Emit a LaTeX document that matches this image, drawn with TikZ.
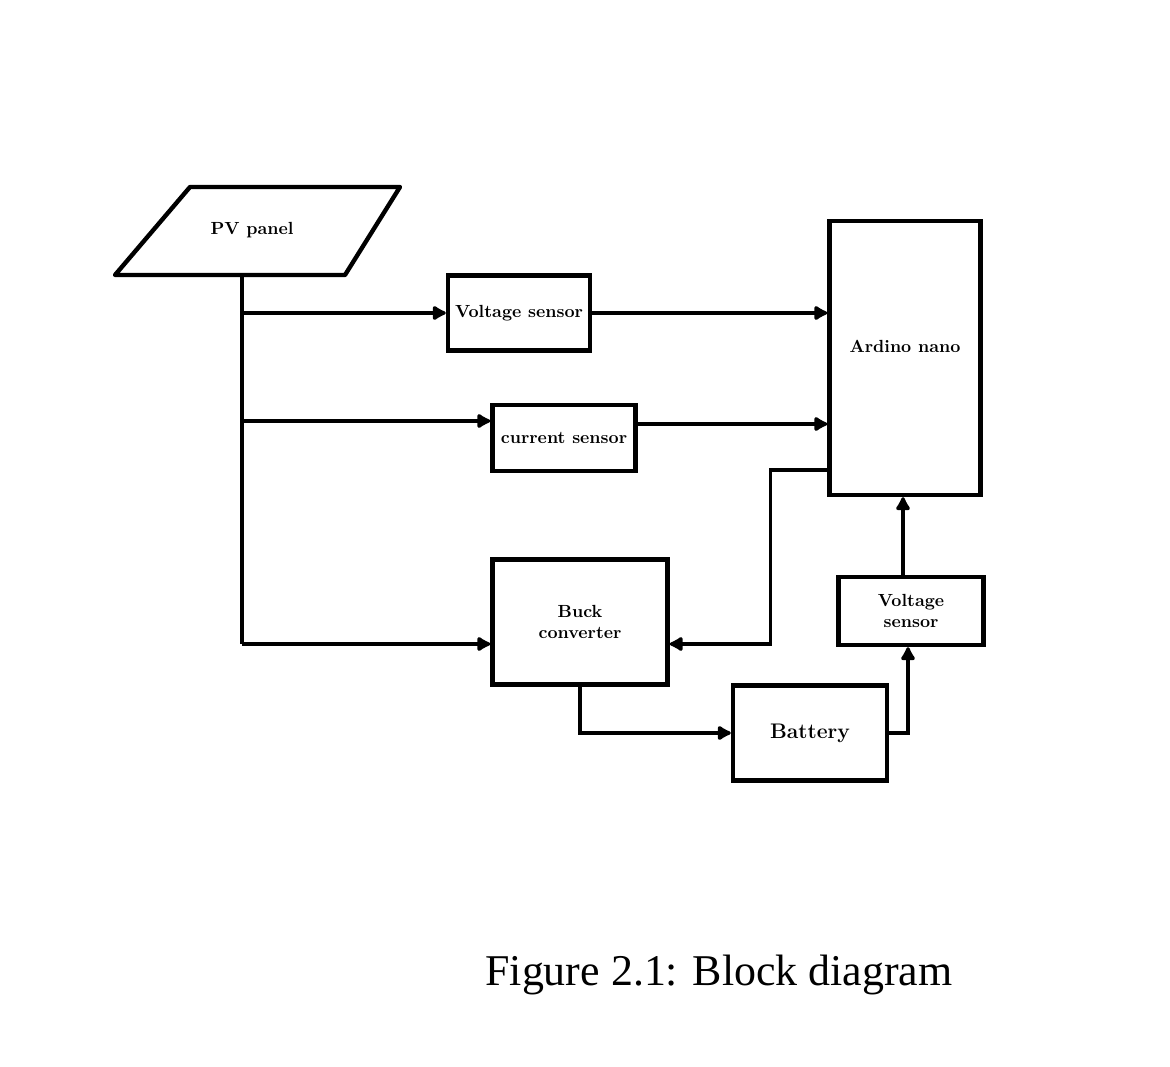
\documentclass[tikz,border=0pt]{standalone}
\usepackage{fontspec}
\newfontfamily\captionfont{Liberation Serif}
\usetikzlibrary{arrows.meta, positioning, calc}
\tikzset{
  block_box/.style={draw=black, line width=2.5pt, fill=white, align=center, font=\bfseries, inner sep=2pt},
  panel_line/.style={draw=black, line width=2.5pt, line join=round},
  wire_line/.style={line width=2pt, color=black},
  flow_arrow/.style={wire_line, ->, >={Latex[length=9pt, width=10pt, round]}}
}
\begin{document}
\begin{tikzpicture}[x=0.02cm, y=0.02cm]
\useasboundingbox (0,0) rectangle (1170,1066);
% blocks
\draw[panel_line] (115,791) -- (190,879) -- (400,879) -- (345,791) -- cycle;
\node[font=\bfseries] (pv_panel) at (252,836) {PV panel};
\node[block_box, minimum width=2.84cm, minimum height=1.5cm] (volt_sensor_in) at (519,753) {Voltage sensor};
\node[block_box, minimum width=2.86cm, minimum height=1.32cm] (curr_sensor) at (564,628) {current sensor};
\node[block_box, minimum width=3.02cm, minimum height=5.48cm, label={[font=\bfseries, yshift=0.24cm]center:Ardino nano}] (ardino) at (905,708) {};
\node[block_box, minimum width=3.5cm, minimum height=2.5cm] (buck_conv) at (580,444) {Buck\\converter};
\node[block_box, minimum width=2.9cm, minimum height=1.36cm] (volt_sensor_bat) at (911,455) {Voltage\\sensor};
\node[block_box, minimum width=3.08cm, minimum height=1.9cm, font=\large\bfseries] (battery) at (810,333) {Battery};
% taps on the panel line
\coordinate (pv_bottom) at (242,791);
\coordinate (trunk_bottom) at (242,422);
\coordinate (cs_tap) at (242,645);
\coordinate (cs_out) at ($(curr_sensor.east)+(0,14)$);
\coordinate (fb_out) at ($(ardino.south west)+(0,27)$);
\coordinate (vs_up) at ($(volt_sensor_bat.north)+(-8,0)$);
% connectors
\draw[wire_line] (pv_bottom) -- (trunk_bottom);
\draw[flow_arrow] (trunk_bottom |- volt_sensor_in.west) -- (volt_sensor_in.west);
\draw[flow_arrow] (cs_tap) -- (curr_sensor.west |- cs_tap);
\draw[flow_arrow] (trunk_bottom) -- (buck_conv.west |- trunk_bottom);
\draw[flow_arrow, line width=2.5pt] (volt_sensor_in.east) -- (volt_sensor_in.east -| ardino.west);
\draw[flow_arrow] (cs_out) -- (cs_out -| ardino.west);
\draw[flow_arrow] (fb_out) -- ++(-57,0) |- (buck_conv.east |- trunk_bottom);
\draw[flow_arrow] (buck_conv.south) |- (battery.west);
\draw[flow_arrow] (battery.east) -| ($(volt_sensor_bat.south)+(-3,0)$);
\draw[flow_arrow, line width=2.5pt] (vs_up) -- (vs_up |- ardino.south);
% caption
\node[font=\captionfont\fontsize{25}{30}\selectfont, anchor=base] (fig_caption) at (719,81) {Figure 2.1: Block diagram};
\end{tikzpicture}
\end{document}
